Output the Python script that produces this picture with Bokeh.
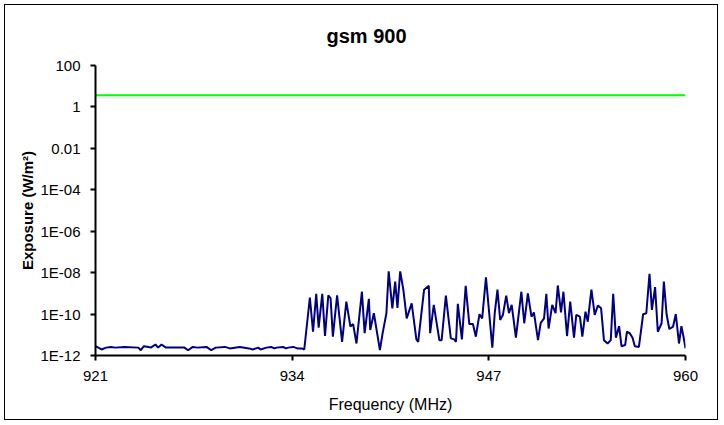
from bokeh.plotting import figure
from bokeh.models import Range1d, FixedTicker, ColumnDataSource
from bokeh.embed import file_html
from bokeh.resources import INLINE

title_text = "gsm 900"
x_label = "Frequency (MHz)"
y_label = "Exposure (W/m\u00b2)"

x_ticks = [921, 934, 947, 960]
y_ticks = [1e2, 1e0, 1e-2, 1e-4, 1e-6, 1e-8, 1e-10, 1e-12]
y_tick_labels = ["100", "1", "0.01", "1E-04", "1E-06", "1E-08", "1E-10", "1E-12"]

# reference level (green)
limit_freq = [921, 960]
limit_value = [3.7, 3.7]

# measured exposure (navy)
freq_mhz = [
    921.00, 921.40, 921.70, 922.01, 922.31, 922.92, 923.83, 923.99, 924.20, 924.50,
    924.66, 924.96, 925.14, 925.36, 925.66, 926.88, 927.12, 927.43, 927.73, 928.34,
    928.65, 928.95, 929.56, 929.87, 930.54, 931.15, 931.39, 931.76, 931.91, 932.30,
    932.61, 932.82, 932.97, 933.40, 933.58, 933.74, 934.07, 934.35, 934.65, 934.80,
    935.17, 935.38, 935.59, 935.75, 935.99, 936.17, 936.39, 936.54, 936.69, 936.97,
    937.30, 937.58, 937.85, 938.03, 938.25, 938.61, 938.79, 939.07, 939.16, 939.40,
    939.80, 939.98, 940.23, 940.38, 940.62, 940.81, 940.96, 941.14, 941.35, 941.57,
    941.90, 942.21, 942.33, 942.72, 943.03, 943.12, 943.36, 943.73, 943.88, 944.16,
    944.49, 944.71, 944.83, 944.95, 945.22, 945.47, 945.71, 945.95, 946.14, 946.38,
    946.56, 946.81, 947.23, 947.39, 947.57, 947.75, 947.93, 948.15, 948.33, 948.51,
    948.79, 949.15, 949.34, 949.58, 949.82, 949.98, 950.25, 950.43, 950.65, 950.80,
    950.95, 951.19, 951.41, 951.56, 951.77, 951.93, 952.17, 952.38, 952.63, 952.78,
    953.02, 953.18, 953.39, 953.54, 953.78, 954.00, 954.21, 954.42, 954.61, 954.85,
    955.06, 955.22, 955.40, 955.61, 955.77, 956.01, 956.13, 956.31, 956.50, 956.65,
    956.92, 957.20, 957.41, 957.62, 957.78, 957.99, 958.17, 958.42, 958.57, 958.75,
    958.93, 959.18, 959.36, 959.57, 959.73, 959.88, 960.00,
]
exposure_wm2 = [
    2.8e-12, 1.95e-12, 2.4e-12, 2.6e-12, 2.4e-12, 2.6e-12, 2.4e-12, 1.8e-12, 2.8e-12, 2.6e-12,
    2.4e-12, 3.4e-12, 2.4e-12, 3.4e-12, 2.4e-12, 2.4e-12, 1.8e-12, 2.6e-12, 2.4e-12, 2.6e-12,
    1.8e-12, 2.4e-12, 2.6e-12, 2.2e-12, 2.6e-12, 2.2e-12, 1.95e-12, 2.4e-12, 1.95e-12, 2.4e-12,
    2.6e-12, 2.2e-12, 2.4e-12, 2.6e-12, 2.2e-12, 2.4e-12, 2.6e-12, 2.2e-12, 2.2e-12, 1.95e-12,
    6.3e-10, 1.4e-11, 9.4e-10, 2.2e-11, 9.4e-10, 8.9e-12, 8.1e-10, 5.8e-10, 8.1e-12, 8.1e-10,
    4.6e-12, 4.0e-10, 2.5e-11, 3.3e-11, 3.8e-12, 1.2e-9, 1.2e-11, 5.4e-10, 1.7e-11, 1.1e-10,
    1.8e-12, 1.2e-11, 1.1e-10, 1.15e-8, 1.9e-10, 3.7e-9, 2.0e-10, 1.15e-8, 1.5e-9, 6.2e-11,
    3.3e-10, 6.0e-12, 4.6e-12, 1.5e-9, 2.3e-9, 1.2e-11, 2.8e-10, 5.5e-12, 5.5e-12, 7.8e-10,
    6.7e-12, 6.0e-12, 4.6e-12, 3.1e-10, 6.0e-12, 2.3e-9, 3.3e-11, 3.3e-11, 8.1e-12, 9.8e-11,
    6.2e-11, 5.9e-9, 2.4e-12, 1.1e-10, 1.5e-9, 5.2e-11, 9.1e-11, 7.8e-10, 1.1e-10, 2.8e-10,
    7.2e-12, 1.2e-9, 3.6e-11, 1.0e-9, 7.5e-11, 1.2e-10, 5.5e-12, 3.8e-11, 6.2e-11, 9.4e-10,
    2.0e-11, 2.8e-10, 1.1e-10, 2.4e-9, 1.2e-10, 1.2e-9, 8.7e-12, 4.0e-10, 7.2e-12, 9.1e-11,
    7.5e-11, 8.1e-12, 1.3e-10, 4.3e-11, 1.5e-9, 9.1e-11, 2.6e-10, 1.9e-10, 5.5e-12, 3.8e-12,
    5.5e-12, 9.4e-10, 7.2e-12, 2.6e-11, 2.8e-12, 3.2e-12, 1.4e-11, 1.2e-11, 7.2e-12, 2.8e-12,
    2.6e-12, 9.8e-11, 1.1e-10, 8.8e-9, 1.6e-10, 2.0e-9, 1.4e-11, 3.6e-11, 3.7e-9, 9.8e-11,
    1.9e-11, 2.5e-11, 1.0e-10, 3.8e-12, 2.6e-11, 7.2e-12, 2.2e-12,
]

FONT = "Liberation Sans"

p = figure(
    width=714, height=416,
    y_axis_type="log",
    x_range=Range1d(921, 960),
    y_range=Range1d(1e-12, 100),
    output_backend="svg",
    toolbar_location=None,
    min_border_left=90, min_border_right=34,
    min_border_top=60, min_border_bottom=66,
)
p.styles = {"border": "1px solid black", "margin-left": "4px", "margin-top": "4px"}

p.title.text = title_text
p.title.align = "left"
p.title.vertical_align = "top"
p.title.offset = 231
p.title.text_font = FONT
p.title.text_font_size = "20px"
p.title.text_font_style = "bold"
p.title.text_color = "black"
p.title.standoff = 34

p.outline_line_color = None
p.xgrid.grid_line_color = None
p.ygrid.grid_line_color = None
p.background_fill_color = "white"
p.border_fill_color = "white"

src = ColumnDataSource(dict(f=freq_mhz, e=exposure_wm2))
p.line("f", "e", source=src, line_color="#000080", line_width=2)
p.line(limit_freq, limit_value, line_color="#00FF00", line_width=2)

for ax in (p.xaxis[0], p.yaxis[0]):
    ax.axis_line_width = 2
    ax.axis_line_color = "black"
    ax.major_tick_line_width = 2
    ax.major_tick_line_color = "black"
    ax.major_tick_in = 0
    ax.major_tick_out = 5
    ax.minor_tick_line_color = None
    ax.major_label_text_font = FONT
    ax.major_label_text_font_size = "15px"
    ax.major_label_text_color = "black"
    ax.axis_label_text_font = FONT
    ax.axis_label_text_color = "black"

p.xaxis.ticker = FixedTicker(ticks=x_ticks)
p.xaxis.axis_label = x_label
p.xaxis.axis_label_text_font_size = "16px"
p.xaxis.axis_label_text_font_style = "normal"
p.xaxis.major_label_standoff = 10
p.xaxis.axis_label_standoff = 12

p.yaxis.ticker = FixedTicker(ticks=y_ticks)
p.yaxis.major_label_overrides = {t: lab for t, lab in zip(y_ticks, y_tick_labels)}
p.yaxis.axis_label = y_label
p.yaxis.axis_label_text_font_size = "15px"
p.yaxis.axis_label_text_font_style = "bold"
p.yaxis.major_label_standoff = 10
p.yaxis.axis_label_standoff = 1

open("out.html", "w").write(file_html(p, INLINE))
